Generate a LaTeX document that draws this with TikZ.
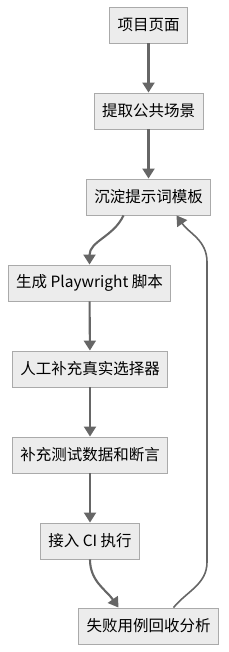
\documentclass[tikz,border=0pt]{standalone}
\usepackage{fontspec}
\setmainfont{Noto Sans CJK SC}
\usetikzlibrary{arrows.meta}
\definecolor{boxfill}{RGB}{236,236,236}
\definecolor{boxline}{RGB}{170,170,170}
\definecolor{flowgray}{RGB}{102,102,102}
\tikzset{
  stepbox/.style={
    draw=boxline,
    fill=boxfill,
    line width=0.9pt,
    minimum height=36pt,
    inner xsep=8pt,
    font=\fontsize{15.5pt}{18pt}\selectfont
  },
  flow/.style={
    draw=flowgray,
    line width=2.1pt,
    -{Triangle[width=12pt,length=10pt]}
  },
  loopflow/.style={
    draw=flowgray,
    line width=1.6pt,
    -{Triangle[width=12pt,length=10pt]}
  }
}

\begin{document}
\begin{tikzpicture}[x=1pt,y=1pt]
  \useasboundingbox (0,0) rectangle (228,-652);
  \node[stepbox] (page) at (148.5,-25) {项目页面};
  \node[stepbox] (scene) at (148.5,-111) {提取公共场景};
  \node[stepbox] (prompt) at (148.5,-197) {沉淀提示词模板};
  \node[stepbox] (script) at (89.5,-283) {生成 Playwright 脚本};
  \node[stepbox] (selector) at (90,-369) {人工补充真实选择器};
  \node[stepbox] (assert) at (90,-455) {补充测试数据和断言};
  \node[stepbox] (ci) at (90,-541) {接入 CI 执行};
  \node[stepbox] (review) at (148.5,-626) {失败用例回收分析};
  \coordinate (loop-bot) at (207,-562);
  \coordinate (loop-top) at (207,-262);

  \draw[flow] (page) -- (scene);
  \draw[flow] (scene) -- (prompt);
  \draw[flow] ([xshift=-25pt]prompt.south) to[out=-115,in=90] (script.north);
  \draw[flow] (script) -- (selector);
  \draw[flow] (selector) -- (assert);
  \draw[flow] (assert) -- (ci);
  \draw[flow] (ci.south) to[out=-90,in=125] ([xshift=-30pt]review.north);
  % feedback loop
  \draw[loopflow] ([xshift=25pt]review.north) to[out=50,in=-90] (loop-bot)
    -- (loop-top) to[out=90,in=-55] ([xshift=28pt]prompt.south);
\end{tikzpicture}
\end{document}
